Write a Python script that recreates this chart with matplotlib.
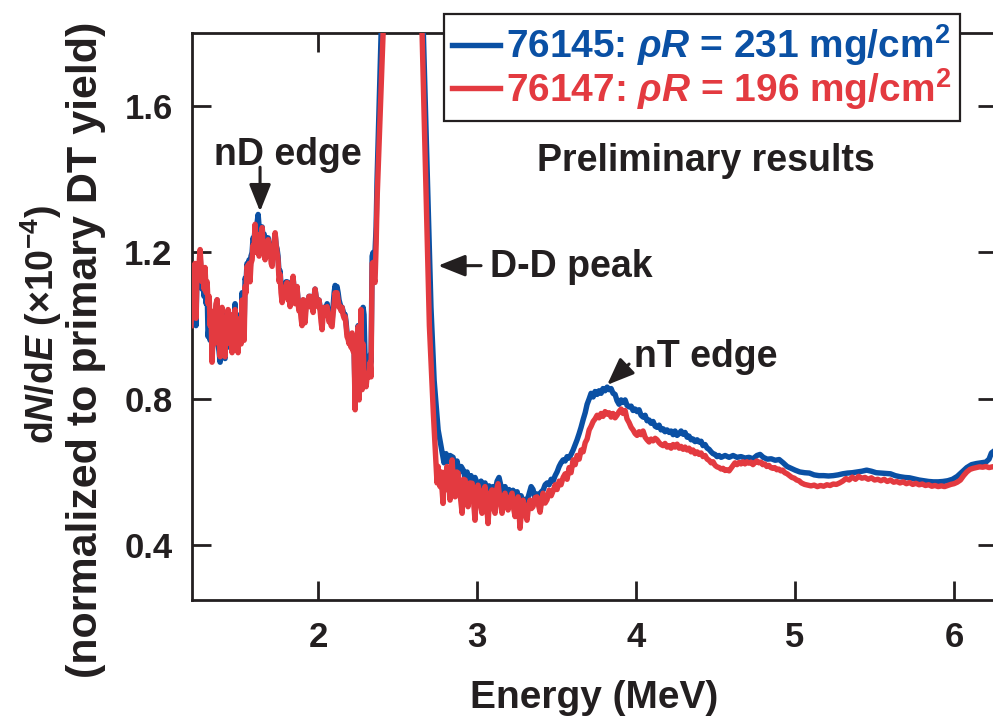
import matplotlib
matplotlib.use('Agg')
import matplotlib.pyplot as plt
from matplotlib.lines import Line2D

plt.rcParams['font.family'] = ['Liberation Sans', 'DejaVu Sans']
plt.rcParams['font.weight'] = 'bold'
plt.rcParams['axes.labelweight'] = 'bold'
plt.rcParams['mathtext.fontset'] = 'custom'
plt.rcParams['mathtext.rm'] = 'Liberation Sans:bold'
plt.rcParams['mathtext.it'] = 'Liberation Sans:bold:italic'
plt.rcParams['mathtext.bf'] = 'Liberation Sans:bold'
plt.rcParams['mathtext.sf'] = 'Liberation Sans'

INK = '#231f20'
BLUE = '#0a50a4'
RED = '#e33a40'

# ---------------- data ----------------
red_nd_region = [
    (1.201, 1.00), (1.214, 1.16), (1.220, 1.03), (1.226, 1.17), (1.232, 1.02), (1.239, 1.16), (1.245, 1.13),
    (1.258, 1.208), (1.270, 1.12), (1.277, 1.15), (1.283, 1.10), (1.289, 1.159), (1.296, 1.09), (1.302, 1.12),
    (1.308, 1.06), (1.315, 1.08), (1.321, 1.00), (1.327, 1.04), (1.333, 0.90), (1.340, 0.98), (1.346, 0.95),
    (1.352, 1.02), (1.358, 1.06), (1.365, 1.071), (1.371, 0.97), (1.377, 0.96), (1.384, 0.915), (1.390, 1.03),
    (1.396, 1.05), (1.402, 0.96), (1.409, 0.95), (1.415, 0.915), (1.421, 1.02), (1.428, 1.00), (1.434, 1.044),
    (1.440, 0.96), (1.447, 0.95), (1.453, 1.03), (1.459, 0.926), (1.466, 0.99), (1.472, 1.00), (1.478, 1.044),
    (1.484, 0.94), (1.491, 0.96), (1.497, 0.926), (1.503, 1.01), (1.509, 1.02), (1.516, 0.95), (1.522, 1.07),
    (1.528, 1.00), (1.535, 0.96), (1.541, 1.107), (1.547, 1.09), (1.553, 1.162), (1.560, 1.15), (1.566, 1.17),
    (1.572, 1.12), (1.578, 1.17), (1.585, 1.18), (1.591, 1.22), (1.597, 1.20), (1.604, 1.277), (1.610, 1.22),
    (1.616, 1.20), (1.623, 1.227), (1.629, 1.19), (1.635, 1.25), (1.642, 1.24), (1.648, 1.268), (1.654, 1.21),
    (1.661, 1.20), (1.667, 1.18), (1.673, 1.22), (1.680, 1.21), (1.686, 1.235), (1.692, 1.19), (1.699, 1.21),
    (1.705, 1.17), (1.711, 1.162), (1.717, 1.21), (1.724, 1.23), (1.730, 1.254), (1.736, 1.22), (1.742, 1.20),
    (1.748, 1.18), (1.755, 1.12), (1.761, 1.14), (1.767, 1.09), (1.774, 1.063), (1.780, 1.09), (1.786, 1.08),
    (1.792, 1.10), (1.799, 1.11), (1.805, 1.118), (1.811, 1.07), (1.818, 1.08), (1.824, 1.052), (1.830, 1.09),
    (1.836, 1.11), (1.843, 1.135), (1.849, 1.09), (1.855, 1.06), (1.862, 1.07), (1.868, 1.107), (1.874, 1.06),
    (1.880, 1.04), (1.887, 1.05), (1.893, 1.02), (1.899, 1.00), (1.906, 1.071), (1.912, 1.04), (1.918, 1.008),
    (1.925, 1.05), (1.931, 1.06), (1.937, 1.071), (1.943, 1.08), (1.950, 1.08), (1.956, 1.05), (1.962, 1.06),
    (1.969, 1.036), (1.975, 1.07), (1.981, 1.10), (1.987, 1.08), (1.994, 1.06), (2.000, 1.052), (2.006, 1.07),
    (2.013, 1.04), (2.019, 1.01), (2.025, 0.989), (2.032, 1.03), (2.038, 1.05), (2.044, 1.03), (2.051, 1.04),
    (2.057, 1.052), (2.063, 1.03), (2.069, 1.01), (2.076, 1.02), (2.082, 1.00), (2.088, 0.997), (2.094, 1.03),
    (2.101, 1.06), (2.107, 1.09), (2.113, 1.08), (2.119, 1.09), (2.126, 1.07), (2.132, 1.05), (2.138, 1.052),
    (2.145, 1.04), (2.151, 1.05), (2.157, 1.03), (2.164, 1.02), (2.170, 1.025), (2.176, 1.00), (2.182, 0.97),
    (2.189, 0.962), (2.195, 0.95), (2.201, 0.97), (2.208, 0.94), (2.214, 0.98), (2.220, 0.93), (2.226, 0.94),
    (2.233, 0.77), (2.239, 0.93), (2.245, 0.95), (2.252, 0.997), (2.258, 0.797), (2.264, 0.90), (2.270, 1.044),
    (2.277, 0.825), (2.283, 0.95), (2.289, 0.86), (2.296, 0.87), (2.302, 0.833), (2.308, 0.86), (2.315, 0.87),
    (2.321, 0.86), (2.327, 0.90), (2.333, 0.86), (2.340, 1.17), (2.346, 1.173), (2.352, 1.13), (2.358, 1.118),
    (2.365, 1.22), (2.371, 1.345),
]
red_dd_peak = [(2.409, 1.80), (2.50, 2.9), (2.56, 3.0), (2.654, 1.80), (2.700, 1.00), (2.725, 0.76)]
red_nt_region = [
    (2.742, 0.62), (2.748, 0.57), (2.755, 0.615), (2.761, 0.58), (2.767, 0.56), (2.774, 0.60), (2.780, 0.55),
    (2.786, 0.514), (2.792, 0.57), (2.798, 0.60), (2.805, 0.58), (2.811, 0.615), (2.818, 0.55), (2.824, 0.57),
    (2.830, 0.523), (2.837, 0.59), (2.843, 0.633), (2.852, 0.56), (2.862, 0.532), (2.872, 0.60), (2.881, 0.597),
    (2.893, 0.54), (2.906, 0.487), (2.915, 0.58), (2.925, 0.578), (2.934, 0.53), (2.943, 0.505), (2.955, 0.57),
    (2.969, 0.569), (2.978, 0.52), (2.987, 0.468), (2.996, 0.55), (3.006, 0.564), (3.018, 0.52), (3.031, 0.487),
    (3.040, 0.55), (3.050, 0.560), (3.060, 0.51), (3.069, 0.459), (3.080, 0.54), (3.094, 0.551), (3.104, 0.50),
    (3.113, 0.487), (3.122, 0.55), (3.132, 0.568), (3.145, 0.52), (3.157, 0.487), (3.166, 0.53), (3.176, 0.542),
    (3.186, 0.51), (3.195, 0.496), (3.208, 0.53), (3.220, 0.542), (3.230, 0.50), (3.239, 0.478), (3.248, 0.52),
    (3.258, 0.532), (3.264, 0.49), (3.270, 0.446), (3.280, 0.50), (3.289, 0.523), (3.300, 0.49), (3.314, 0.468),
    (3.324, 0.51), (3.333, 0.523), (3.342, 0.50), (3.352, 0.505), (3.365, 0.53), (3.377, 0.532), (3.386, 0.51),
    (3.396, 0.49), (3.406, 0.52), (3.415, 0.542), (3.428, 0.515), (3.440, 0.524), (3.453, 0.55), (3.466, 0.535),
    (3.478, 0.548), (3.491, 0.565), (3.503, 0.552), (3.516, 0.575), (3.528, 0.565), (3.541, 0.585), (3.554, 0.595),
    (3.566, 0.580), (3.579, 0.612), (3.591, 0.598), (3.604, 0.633), (3.617, 0.620), (3.629, 0.645), (3.642, 0.635),
    (3.654, 0.660), (3.667, 0.655), (3.680, 0.680), (3.692, 0.690), (3.705, 0.715), (3.717, 0.725), (3.730, 0.738),
    (3.742, 0.745), (3.755, 0.755), (3.767, 0.748), (3.780, 0.760), (3.792, 0.752), (3.805, 0.765), (3.818, 0.758),
    (3.830, 0.762), (3.843, 0.750), (3.855, 0.760), (3.868, 0.748), (3.880, 0.755), (3.893, 0.765), (3.906, 0.772),
    (3.918, 0.760), (3.931, 0.768), (3.943, 0.745), (3.956, 0.735), (3.969, 0.722), (3.981, 0.715), (3.994, 0.705),
    (4.006, 0.700), (4.019, 0.710), (4.031, 0.702), (4.044, 0.712), (4.057, 0.695), (4.069, 0.688), (4.082, 0.682),
    (4.094, 0.690), (4.107, 0.685), (4.120, 0.692), (4.132, 0.688), (4.145, 0.680), (4.157, 0.675), (4.170, 0.672),
    (4.182, 0.678), (4.195, 0.668), (4.208, 0.672), (4.220, 0.665), (4.233, 0.675), (4.245, 0.668), (4.258, 0.676),
    (4.271, 0.665), (4.283, 0.670), (4.296, 0.662), (4.308, 0.668), (4.321, 0.660), (4.333, 0.665), (4.346, 0.655),
    (4.358, 0.660), (4.371, 0.650), (4.384, 0.655), (4.396, 0.648), (4.409, 0.652), (4.421, 0.642), (4.434, 0.645),
    (4.447, 0.635), (4.459, 0.632), (4.472, 0.625), (4.484, 0.628), (4.497, 0.618), (4.509, 0.614), (4.522, 0.612),
    (4.535, 0.608), (4.547, 0.610), (4.560, 0.604), (4.572, 0.606), (4.585, 0.603), (4.597, 0.610), (4.610, 0.618),
    (4.622, 0.625), (4.635, 0.620), (4.647, 0.626), (4.660, 0.622), (4.672, 0.628), (4.685, 0.622), (4.697, 0.628),
    (4.710, 0.624), (4.722, 0.627), (4.735, 0.620), (4.748, 0.626), (4.760, 0.630), (4.772, 0.625), (4.785, 0.627),
    (4.797, 0.620), (4.810, 0.622), (4.822, 0.615), (4.835, 0.618), (4.847, 0.612), (4.860, 0.610), (4.872, 0.612),
    (4.885, 0.606), (4.897, 0.608), (4.910, 0.603), (4.922, 0.605), (4.935, 0.598), (4.950, 0.595), (4.965, 0.590),
    (4.980, 0.585), (4.995, 0.583), (5.010, 0.578), (5.025, 0.576), (5.040, 0.570), (5.060, 0.566), (5.080, 0.564),
    (5.100, 0.562), (5.120, 0.564), (5.140, 0.560), (5.160, 0.563), (5.180, 0.561), (5.200, 0.565), (5.220, 0.563),
    (5.240, 0.567), (5.260, 0.566), (5.280, 0.570), (5.300, 0.575), (5.320, 0.582), (5.340, 0.578), (5.360, 0.586),
    (5.380, 0.580), (5.400, 0.588), (5.420, 0.583), (5.440, 0.585), (5.460, 0.580), (5.480, 0.584), (5.500, 0.578),
    (5.520, 0.580), (5.540, 0.576), (5.560, 0.580), (5.580, 0.574), (5.600, 0.578), (5.620, 0.572), (5.640, 0.574),
    (5.660, 0.570), (5.680, 0.573), (5.700, 0.568), (5.720, 0.571), (5.740, 0.566), (5.760, 0.569), (5.780, 0.565),
    (5.800, 0.567), (5.820, 0.563), (5.840, 0.565), (5.860, 0.561), (5.880, 0.563), (5.900, 0.560), (5.920, 0.562),
    (5.940, 0.560), (5.960, 0.563), (5.980, 0.566), (6.000, 0.568), (6.020, 0.572), (6.040, 0.578), (6.060, 0.590),
    (6.080, 0.600), (6.100, 0.607), (6.120, 0.610), (6.140, 0.612), (6.160, 0.614), (6.180, 0.613), (6.200, 0.615),
    (6.220, 0.612), (6.240, 0.614), (6.260, 0.615),
]

blue_nd_region = [
    (1.201, 1.02), (1.214, 1.15), (1.220, 1.04), (1.226, 1.16), (1.232, 1.00), (1.239, 1.15), (1.245, 1.12),
    (1.258, 1.19), (1.270, 1.10), (1.277, 1.14), (1.283, 1.08), (1.289, 1.15), (1.296, 1.06), (1.302, 1.10),
    (1.308, 0.97), (1.315, 1.00), (1.321, 0.96), (1.327, 1.02), (1.333, 0.92), (1.340, 0.97), (1.346, 0.96),
    (1.352, 1.03), (1.358, 1.05), (1.365, 1.07), (1.371, 0.95), (1.377, 0.93), (1.384, 0.90), (1.390, 1.02),
    (1.396, 1.04), (1.402, 0.94), (1.409, 0.92), (1.415, 0.91), (1.421, 1.00), (1.428, 1.00), (1.434, 1.04),
    (1.440, 0.96), (1.447, 0.94), (1.453, 1.02), (1.459, 0.93), (1.466, 0.99), (1.472, 1.02), (1.478, 1.06),
    (1.484, 0.96), (1.491, 0.98), (1.497, 0.95), (1.503, 1.02), (1.509, 1.03), (1.516, 0.97), (1.522, 1.09),
    (1.528, 1.03), (1.535, 1.00), (1.541, 1.13), (1.547, 1.12), (1.553, 1.17), (1.560, 1.16), (1.566, 1.18),
    (1.572, 1.15), (1.578, 1.19), (1.585, 1.20), (1.591, 1.24), (1.597, 1.23), (1.604, 1.27), (1.610, 1.25),
    (1.616, 1.28), (1.623, 1.304), (1.629, 1.27), (1.635, 1.26), (1.642, 1.25), (1.648, 1.27), (1.654, 1.24),
    (1.661, 1.25), (1.667, 1.22), (1.673, 1.24), (1.680, 1.22), (1.686, 1.24), (1.692, 1.21), (1.699, 1.22),
    (1.705, 1.19), (1.711, 1.18), (1.717, 1.22), (1.724, 1.23), (1.730, 1.25), (1.736, 1.22), (1.742, 1.21),
    (1.748, 1.19), (1.755, 1.14), (1.761, 1.15), (1.767, 1.11), (1.774, 1.09), (1.780, 1.10), (1.786, 1.09),
    (1.792, 1.11), (1.799, 1.12), (1.805, 1.12), (1.811, 1.09), (1.818, 1.09), (1.824, 1.07), (1.830, 1.10),
    (1.836, 1.12), (1.843, 1.13), (1.849, 1.10), (1.855, 1.07), (1.862, 1.08), (1.868, 1.10), (1.874, 1.07),
    (1.880, 1.05), (1.887, 1.06), (1.893, 1.04), (1.899, 1.03), (1.906, 1.07), (1.912, 1.05), (1.918, 1.03),
    (1.925, 1.06), (1.931, 1.06), (1.937, 1.07), (1.943, 1.08), (1.950, 1.08), (1.956, 1.06), (1.962, 1.07),
    (1.969, 1.05), (1.975, 1.08), (1.981, 1.10), (1.987, 1.08), (1.994, 1.07), (2.000, 1.06), (2.006, 1.07),
    (2.013, 1.05), (2.019, 1.03), (2.025, 1.01), (2.032, 1.04), (2.038, 1.05), (2.044, 1.04), (2.051, 1.05),
    (2.057, 1.06), (2.063, 1.04), (2.069, 1.03), (2.076, 1.03), (2.082, 1.02), (2.088, 1.01), (2.094, 1.05),
    (2.101, 1.09), (2.107, 1.11), (2.113, 1.10), (2.119, 1.107), (2.126, 1.09), (2.132, 1.07), (2.138, 1.06),
    (2.145, 1.05), (2.151, 1.05), (2.157, 1.04), (2.164, 1.03), (2.170, 1.03), (2.176, 1.01), (2.182, 0.98),
    (2.189, 0.97), (2.195, 0.96), (2.201, 0.97), (2.208, 0.95), (2.214, 0.97), (2.220, 0.95), (2.226, 0.95),
    (2.233, 0.80), (2.239, 0.94), (2.245, 0.96), (2.252, 1.00), (2.258, 0.82), (2.264, 0.92), (2.270, 1.04),
    (2.277, 0.85), (2.283, 1.05), (2.289, 1.03), (2.296, 0.90), (2.302, 0.86), (2.308, 0.88), (2.315, 0.89),
    (2.321, 0.88), (2.327, 0.92), (2.333, 0.90), (2.340, 1.19), (2.346, 1.20), (2.352, 1.17), (2.358, 1.20),
    (2.365, 1.27), (2.371, 1.40),
]
blue_dd_peak = [(2.396, 1.80), (2.50, 3.3), (2.56, 3.4), (2.662, 1.80), (2.710, 1.05), (2.730, 0.85), (2.755, 0.715)]
blue_nt_region = [
    (2.780, 0.655), (2.792, 0.625), (2.805, 0.650), (2.818, 0.628), (2.830, 0.645), (2.849, 0.640), (2.862, 0.612),
    (2.874, 0.630), (2.887, 0.600), (2.900, 0.615), (2.912, 0.606), (2.925, 0.585), (2.937, 0.600), (2.950, 0.575),
    (2.962, 0.590), (2.975, 0.565), (2.987, 0.585), (3.000, 0.570), (3.013, 0.560), (3.025, 0.575), (3.038, 0.555),
    (3.050, 0.570), (3.063, 0.548), (3.075, 0.562), (3.088, 0.545), (3.100, 0.560), (3.113, 0.548), (3.126, 0.575),
    (3.138, 0.585), (3.151, 0.560), (3.164, 0.545), (3.176, 0.560), (3.189, 0.540), (3.201, 0.552), (3.214, 0.535),
    (3.226, 0.550), (3.239, 0.530), (3.252, 0.546), (3.264, 0.520), (3.277, 0.535), (3.289, 0.515), (3.302, 0.525),
    (3.314, 0.520), (3.327, 0.540), (3.340, 0.560), (3.352, 0.552), (3.365, 0.525), (3.377, 0.540), (3.390, 0.528),
    (3.402, 0.545), (3.415, 0.550), (3.428, 0.565), (3.440, 0.570), (3.453, 0.565), (3.466, 0.580), (3.478, 0.575),
    (3.491, 0.590), (3.503, 0.600), (3.516, 0.615), (3.528, 0.625), (3.541, 0.633), (3.554, 0.630), (3.566, 0.642),
    (3.579, 0.638), (3.591, 0.648), (3.604, 0.660), (3.617, 0.675), (3.629, 0.688), (3.642, 0.705), (3.654, 0.722),
    (3.667, 0.743), (3.680, 0.762), (3.692, 0.785), (3.705, 0.800), (3.717, 0.815), (3.730, 0.805), (3.742, 0.820),
    (3.755, 0.812), (3.767, 0.822), (3.780, 0.815), (3.792, 0.828), (3.805, 0.822), (3.818, 0.832), (3.830, 0.825),
    (3.843, 0.828), (3.855, 0.815), (3.868, 0.812), (3.880, 0.795), (3.893, 0.785), (3.906, 0.797), (3.918, 0.790),
    (3.931, 0.797), (3.943, 0.782), (3.956, 0.778), (3.969, 0.780), (3.981, 0.768), (3.994, 0.772), (4.006, 0.765),
    (4.019, 0.770), (4.031, 0.755), (4.044, 0.750), (4.057, 0.755), (4.069, 0.740), (4.082, 0.742), (4.094, 0.733),
    (4.107, 0.738), (4.120, 0.725), (4.132, 0.722), (4.145, 0.728), (4.157, 0.715), (4.170, 0.718), (4.182, 0.710),
    (4.195, 0.715), (4.208, 0.708), (4.220, 0.712), (4.233, 0.702), (4.245, 0.712), (4.258, 0.700), (4.271, 0.705),
    (4.283, 0.712), (4.296, 0.703), (4.308, 0.708), (4.321, 0.695), (4.333, 0.698), (4.346, 0.688), (4.358, 0.690),
    (4.371, 0.683), (4.384, 0.688), (4.396, 0.682), (4.409, 0.684), (4.421, 0.672), (4.434, 0.675), (4.447, 0.665),
    (4.459, 0.662), (4.472, 0.655), (4.484, 0.650), (4.497, 0.648), (4.509, 0.642), (4.522, 0.645), (4.535, 0.640),
    (4.560, 0.645), (4.585, 0.640), (4.610, 0.645), (4.635, 0.640), (4.660, 0.642), (4.685, 0.638), (4.710, 0.640),
    (4.735, 0.636), (4.760, 0.645), (4.780, 0.648), (4.800, 0.640), (4.825, 0.635), (4.850, 0.636), (4.875, 0.632),
    (4.900, 0.634), (4.925, 0.625), (4.950, 0.615), (4.975, 0.610), (5.000, 0.605), (5.030, 0.600), (5.060, 0.598),
    (5.090, 0.597), (5.120, 0.592), (5.150, 0.590), (5.180, 0.590), (5.210, 0.589), (5.240, 0.590), (5.270, 0.592),
    (5.300, 0.595), (5.330, 0.597), (5.360, 0.598), (5.390, 0.600), (5.420, 0.602), (5.450, 0.605), (5.480, 0.602),
    (5.510, 0.598), (5.540, 0.597), (5.570, 0.596), (5.600, 0.595), (5.630, 0.590), (5.660, 0.587), (5.690, 0.585),
    (5.720, 0.584), (5.750, 0.581), (5.780, 0.578), (5.810, 0.576), (5.840, 0.574), (5.870, 0.573), (5.900, 0.573),
    (5.930, 0.574), (5.960, 0.576), (5.990, 0.580), (6.020, 0.588), (6.050, 0.600), (6.080, 0.612), (6.110, 0.620),
    (6.140, 0.623), (6.170, 0.625), (6.200, 0.627), (6.220, 0.635), (6.235, 0.652), (6.260, 0.660),
]

x_ticks = [2, 3, 4, 5, 6]
y_ticks = [0.4, 0.8, 1.2, 1.6]
y_tick_labels = ['0.4', '0.8', '1.2', '1.6']
x_limits = (1.207, 6.27)
y_limits = (0.25, 1.8)
legend_labels = [r'76145: $\rho R$ = 231 mg/cm$^{2}$', r'76147: $\rho R$ = 196 mg/cm$^{2}$']

blue_points = blue_nd_region + blue_dd_peak + blue_nt_region
red_points = red_nd_region + red_dd_peak + red_nt_region
blue_energy, blue_counts = zip(*blue_points)
red_energy, red_counts = zip(*red_points)

# ---------------- figure ----------------
W, H = 993, 718
LW = 3.9
fig = plt.figure(figsize=(W / 100, H / 100), dpi=100)
ax = fig.add_axes([192 / W, (H - 600) / H, (997 - 192) / W, (600 - 33) / H])

ax.plot(blue_energy, blue_counts, color=BLUE, lw=LW, solid_joinstyle='round', zorder=3)
ax.plot(red_energy, red_counts, color=RED, lw=LW, solid_joinstyle='round', zorder=4)

ax.set_xlim(*x_limits)
ax.set_ylim(*y_limits)
ax.set_xticks(x_ticks)
ax.set_xticklabels([str(v) for v in x_ticks])
ax.set_yticks(y_ticks)
ax.set_yticklabels(y_tick_labels)
ax.tick_params(direction='in', length=14, width=2, color=INK, top=True, right=True,
               labelsize=25, labelcolor=INK)
ax.tick_params(axis='x', pad=15)
ax.tick_params(axis='y', pad=14)
for s in ax.spines.values():
    s.set_linewidth(2)
    s.set_color(INK)

ax.set_xlabel('Energy (MeV)', fontsize=28, fontweight='bold', color=INK, labelpad=19)

fig.text(41 / W, 1 - 325 / H, r'd$N$/d$E$ $\mathsf{(\times10^{-4})}$', rotation=90,
         ha='center', va='center', fontsize=27, color=INK)
fig.text(86 / W, 1 - 350 / H, '(normalized to primary DT yield)', rotation=90,
         ha='center', va='center', fontsize=31, color=INK)

# annotations
arrow_kw = dict(arrowstyle='-|>,head_length=0.75,head_width=0.3', color=INK, lw=2.2,
                mutation_scale=22, shrinkA=0, shrinkB=0)
ax.text(1.811, 1.438, 'nD edge', ha='center', va='baseline', fontsize=27, color=INK)
ax.annotate('', xy=(1.635, 1.312), xytext=(1.635, 1.433), arrowprops=arrow_kw)
ax.text(3.082, 1.134, 'D-D peak', ha='left', va='baseline', fontsize=27, color=INK)
ax.annotate('', xy=(2.755, 1.164), xytext=(3.025, 1.164), arrowprops=arrow_kw)
ax.text(3.987, 0.888, 'nT edge', ha='left', va='baseline', fontsize=27, color=INK)
ax.annotate('', xy=(3.818, 0.838), xytext=(3.956, 0.895), arrowprops=arrow_kw)
ax.text(4.44, 1.422, 'Preliminary results', ha='center', va='baseline', fontsize=27, color=INK)

handles = [Line2D([], [], color=BLUE, lw=LW), Line2D([], [], color=RED, lw=LW)]
leg = ax.legend(handles, legend_labels, loc='upper left',
                bbox_to_anchor=(443.5 / W, 1 - 14 / H), bbox_transform=fig.transFigure,
                borderaxespad=0, fontsize=28, handlelength=1.22, handletextpad=0.17,
                borderpad=0.22, labelspacing=-0.05, frameon=True, fancybox=False,
                labelcolor='linecolor', framealpha=1)
leg.get_frame().set_edgecolor(INK)
leg.get_frame().set_linewidth(1.6)
leg.set_zorder(10)

fig.savefig('out.png', dpi=100)
